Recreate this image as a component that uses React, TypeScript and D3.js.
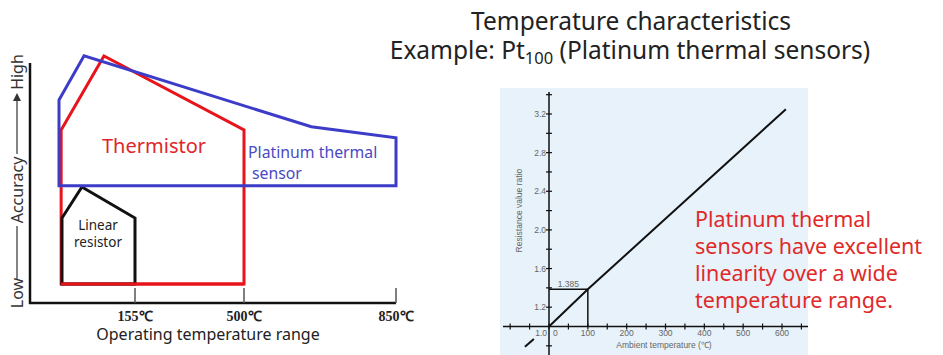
import React from "react";
import * as d3 from "d3";

// ---------- Left chart data ----------
const leftTicks = [155, 500, 850];
const thermistor: [number, number][] = [
  [-190, 6.92], [10, 9.88], [500, 6.92], [500, 0.76], [-190, 0.76],
];
const platinum: [number, number][] = [
  [-200, 8.12], [-83, 9.89], [655, 7.05], [850, 6.61], [850, 4.69], [-200, 4.69],
];
const linearResistor: [number, number][] = [
  [-186, 3.4], [-93, 4.64], [155, 3.4], [155, 0.76], [-186, 0.76],
];

// ---------- Right chart data ----------
const rightXTicks = [0, 100, 200, 300, 400, 500, 600];
const rightXMinor = [-100, -50, 0, 50, 100, 150, 200, 250, 300, 350, 400, 450, 500, 550, 600, 650];
const rightYTicks = [1.2, 1.6, 2.0, 2.4, 2.8, 3.2];
const rightYMinor = [0.8, 1.2, 1.4, 1.6, 1.8, 2.0, 2.2, 2.4, 2.6, 2.8, 3.0, 3.2, 3.4];
const ptCurve: [number, number][] = [[0, 1.0], [100, 1.385], [610, 3.25]];
const ptCurveLow: [number, number][] = [[-62, 0.79], [-39, 0.87]];
const marker = { t: 100, r: 1.385, label: "1.385" };

const noteLines = [
  "Platinum thermal",
  "sensors have excellent",
  "linearity over a wide",
  "temperature range.",
];

const SANS = "'Noto Sans', 'Open Sans', sans-serif";

export default function App() {
  // left scales
  const xL = d3.scaleLinear().domain([-200, 155, 500, 850]).range([59, 135, 244, 396]);
  const yL = d3.scaleLinear().domain([0, 10]).range([303, 53]);
  const poly = d3.line<[number, number]>().x((d) => xL(d[0])).y((d) => yL(d[1])).curve(d3.curveLinearClosed);

  // right scales
  const xR = d3.scaleLinear().domain([0, 600]).range([549, 782]);
  const yR = d3.scaleLinear().domain([1.0, 3.2]).range([326.5, 114]);
  const ln = d3.line<[number, number]>().x((d) => xR(d[0])).y((d) => yR(d[1]));

  return (
    <svg width={943} height={355} style={{ position: "absolute", left: 0, top: 0, background: "#fff" }}>
      {/* Title */}
      <text x={631} y={30} textAnchor="middle" fontFamily={SANS} fontSize={24.5} fill="#222">
        Temperature characteristics
      </text>
      <text x={630} y={59} textAnchor="middle" fontFamily={SANS} fontSize={24.5} fill="#222">
        Example: Pt<tspan fontSize={16.5} dy={5}>100</tspan><tspan dy={-5}> (Platinum thermal sensors)</tspan>
      </text>

      {/* ---------- Left chart ---------- */}
      <path d={poly(thermistor) || ""} fill="none" stroke="#e8141c" strokeWidth={3} strokeLinejoin="miter" />
      <path d={poly(linearResistor) || ""} fill="none" stroke="#111" strokeWidth={3} />
      <path d={poly(platinum) || ""} fill="none" stroke="#3c3cc8" strokeWidth={3} />
      <line x1={xL(-190)} x2={xL(500)} y1={yL(0.76)} y2={yL(0.76)} stroke="#e8141c" strokeWidth={3} />

      {/* axes */}
      <line x1={30} x2={30} y1={63} y2={304} stroke="#111" strokeWidth={2.5} />
      <line x1={29} x2={xL(850)} y1={303} y2={303} stroke="#111" strokeWidth={2.5} />
      {leftTicks.map((t) => (
        <g key={t}>
          <line x1={xL(t)} x2={xL(t)} y1={288} y2={303} stroke="#555" strokeWidth={1.5} />
          <text x={xL(t)} y={321} textAnchor="middle" fontFamily="'Liberation Serif', serif" fontSize={14} fontWeight="bold" fill="#222">
            {t + "℃"}
          </text>
        </g>
      ))}
      <text x={208} y={340} textAnchor="middle" fontFamily={SANS} fontSize={16} fill="#222">
        Operating temperature range
      </text>

      {/* y axis label: Low —— Accuracy —— ▶ High */}
      <g fontFamily={SANS} fontSize={16} fill="#333">
        <text transform="translate(23,293) rotate(-90)" textAnchor="middle">Low</text>
        <text transform="translate(23,190) rotate(-90)" textAnchor="middle">Accuracy</text>
        <text transform="translate(23,72) rotate(-90)" textAnchor="middle">High</text>
      </g>
      <line x1={17} x2={17} y1={279} y2={226} stroke="#333" strokeWidth={1.2} />
      <line x1={17} x2={17} y1={154} y2={100} stroke="#333" strokeWidth={1.2} />
      <path d="M13,101 L21,101 L17,93 Z" fill="#333" />

      {/* left labels */}
      <text x={102} y={153} fontFamily={SANS} fontSize={20} fill="#e0262a">Thermistor</text>
      <text x={248} y={158} fontFamily={SANS} fontSize={15.8} fill="#4a4ac4">Platinum thermal</text>
      <text x={252} y={179} fontFamily={SANS} fontSize={15.8} fill="#4a4ac4">sensor</text>
      <text x={98} y={230} textAnchor="middle" fontFamily={SANS} fontSize={13.5} fill="#222">Linear</text>
      <text x={98} y={247} textAnchor="middle" fontFamily={SANS} fontSize={13.5} fill="#222">resistor</text>

      {/* ---------- Right chart ---------- */}
      <rect x={500} y={88} width={308} height={267} fill="#e7f2fa" />
      {/* axes */}
      <line x1={503} x2={808} y1={yR(1.0)} y2={yR(1.0)} stroke="#111" strokeWidth={1.5} />
      <line x1={xR(0)} x2={xR(0)} y1={92} y2={355} stroke="#111" strokeWidth={1.5} />
      {rightXMinor.map((t) => (
        <line key={"xm" + t} x1={xR(t)} x2={xR(t)} y1={yR(1.0) - 3} y2={yR(1.0) + 3} stroke="#111" strokeWidth={1.2} />
      ))}
      {rightYMinor.map((r) => (
        <line key={"ym" + r} x1={xR(0) - 3} x2={xR(0) + 3} y1={yR(r)} y2={yR(r)} stroke="#111" strokeWidth={1.2} />
      ))}
      <g fontFamily="'Liberation Sans', Arial, sans-serif" fontSize={8.5} fill="#666">
        {rightXTicks.map((t) => (
          <text key={"xt" + t} x={t === 0 ? xR(0) + 4 : xR(t)} y={yR(1.0) + 9.5} textAnchor={t === 0 ? "start" : "middle"}>
            {t}
          </text>
        ))}
        <text x={xR(0) - 2} y={yR(1.0) + 9.5} textAnchor="end">1.0</text>
        {rightYTicks.map((r) => (
          <text key={"yt" + r} x={xR(0) - 3} y={yR(r) + 3} textAnchor="end">
            {r.toFixed(1)}
          </text>
        ))}
        <text x={xR(marker.t / 2)} y={yR(marker.r) - 2} textAnchor="middle">{marker.label}</text>
        <text x={664} y={348} textAnchor="middle">Ambient temperature (℃)</text>
        <text transform={`translate(522,${yR(2.2)}) rotate(-90)`} textAnchor="middle">Resistance value ratio</text>
      </g>
      {/* marker */}
      <line x1={xR(0)} x2={xR(marker.t)} y1={yR(marker.r)} y2={yR(marker.r)} stroke="#111" strokeWidth={1.5} />
      <line x1={xR(marker.t)} x2={xR(marker.t)} y1={yR(marker.r)} y2={yR(1.0)} stroke="#111" strokeWidth={1.5} />
      {/* curve */}
      <path d={ln(ptCurve) || ""} fill="none" stroke="#111" strokeWidth={2} />
      <path d={ln(ptCurveLow) || ""} fill="none" stroke="#111" strokeWidth={2} />

      {/* note */}
      {noteLines.map((s, i) => (
        <text key={i} x={695} y={227 + i * 27} fontFamily={SANS} fontSize={21.5} fill="#e02a2a">
          {s}
        </text>
      ))}
    </svg>
  );
}
